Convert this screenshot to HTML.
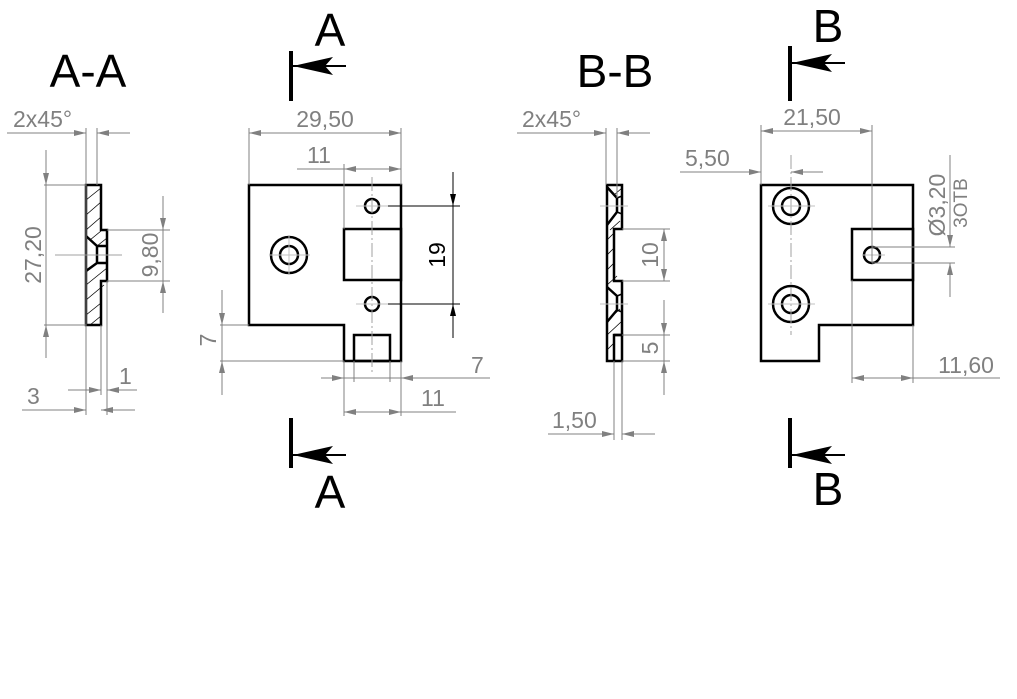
<!DOCTYPE html>
<html><head><meta charset="utf-8"><style>
html,body{margin:0;padding:0;background:#fff;}
svg{display:block;}
.d{stroke:#808080;stroke-width:1;fill:none;}
.o{stroke:#000;stroke-width:2.5;fill:none;}
.c{stroke:#a0a0a0;stroke-width:1;fill:none;stroke-dasharray:14,3,2,3;}
.h{stroke:#000;stroke-width:0.8;}
.t{font-family:"Liberation Sans",sans-serif;font-size:23px;fill:#808080;}
.T{font-family:"Liberation Sans",sans-serif;font-size:46px;fill:#000;}
</style></head><body>
<svg width="1017" height="699" viewBox="0 0 1017 699" xmlns="http://www.w3.org/2000/svg">
<defs>
<marker id="a" viewBox="0 0 12 6" refX="12" refY="3" markerWidth="14" markerHeight="6" markerUnits="userSpaceOnUse" orient="auto-start-reverse"><path d="M0,0 L12,3 L0,6 z" fill="#808080"/></marker>
<marker id="k" viewBox="0 0 12 6" refX="12" refY="3" markerWidth="13" markerHeight="6" markerUnits="userSpaceOnUse" orient="auto-start-reverse"><path d="M0,0 L12,3 L0,6 z" fill="#000"/></marker>
<marker id="b" viewBox="0 0 40 18" refX="40" refY="9" markerWidth="40" markerHeight="18" markerUnits="userSpaceOnUse" orient="auto"><path d="M0,0 L40,9 L0,18 L8,9 z" fill="#000"/></marker>
</defs>

<text class="T" x="88" y="87" text-anchor="middle">A-A</text>
<text class="T" x="615" y="87" text-anchor="middle">B-B</text>

<line x1="291" y1="51" x2="291" y2="101" stroke="#000" stroke-width="4"/>
<line x1="346" y1="66" x2="293" y2="66" stroke="#000" stroke-width="2" marker-end="url(#b)"/>
<text class="T" x="330" y="46" text-anchor="middle">A</text>
<line x1="291" y1="418" x2="291" y2="468" stroke="#000" stroke-width="4"/>
<line x1="346" y1="455" x2="293" y2="455" stroke="#000" stroke-width="2" marker-end="url(#b)"/>
<text class="T" x="330" y="508" text-anchor="middle">A</text>
<line x1="790" y1="46" x2="790" y2="101" stroke="#000" stroke-width="4"/>
<line x1="845" y1="63" x2="792" y2="63" stroke="#000" stroke-width="2" marker-end="url(#b)"/>
<text class="T" x="828" y="42" text-anchor="middle">B</text>
<line x1="790" y1="418" x2="790" y2="468" stroke="#000" stroke-width="4"/>
<line x1="845" y1="455" x2="792" y2="455" stroke="#000" stroke-width="2" marker-end="url(#b)"/>
<text class="T" x="828" y="505" text-anchor="middle">B</text>

<!-- A-A section -->
<g class="h">
<line x1="86" y1="200" x2="101" y2="188"/><line x1="86" y1="215" x2="101" y2="202"/>
<line x1="86" y1="230" x2="101" y2="217"/><line x1="90" y1="240" x2="101" y2="231"/>
<line x1="97" y1="246" x2="107" y2="238"/>
<line x1="86" y1="285" x2="107" y2="268"/><line x1="86" y1="300" x2="104" y2="285"/>
<line x1="86" y1="315" x2="101" y2="303"/><line x1="90" y1="325" x2="101" y2="316"/>
<line x1="86" y1="272" x2="97" y2="263"/>
</g>
<path class="o" d="M86,185 H101 V230 H107 V281 H101 V325 H86 Z"/>
<path class="o" d="M86,236 L97,246 H107 M97,246 V263 H107 M97,263 L86,271" stroke-width="2"/>
<line x1="55" y1="255" x2="122" y2="255" stroke="#a0a0a0"/>
<line class="d" x1="46" y1="150" x2="46" y2="358"/>
<line class="d" x1="46" y1="150" x2="46" y2="185" marker-end="url(#a)"/>
<line class="d" x1="46" y1="358" x2="46" y2="325" marker-end="url(#a)"/>
<line class="d" x1="44" y1="185" x2="86" y2="185"/><line class="d" x1="44" y1="325" x2="86" y2="325"/>
<text class="t" transform="translate(41,255) rotate(-90)" text-anchor="middle">27,20</text>
<line class="d" x1="163" y1="196" x2="163" y2="230" marker-end="url(#a)"/>
<line class="d" x1="163" y1="313" x2="163" y2="281" marker-end="url(#a)"/>
<line class="d" x1="163" y1="230" x2="163" y2="281"/>
<line class="d" x1="107" y1="230" x2="170" y2="230"/><line class="d" x1="107" y1="281" x2="170" y2="281"/>
<text class="t" transform="translate(158,255) rotate(-90)" text-anchor="middle">9,80</text>
<line class="d" x1="86" y1="128" x2="86" y2="415"/><line class="d" x1="97" y1="128" x2="97" y2="185"/>
<line class="d" x1="101" y1="325" x2="101" y2="395"/><line class="d" x1="107" y1="281" x2="107" y2="415"/>
<line class="d" x1="7" y1="133" x2="86" y2="133" marker-end="url(#a)"/>
<line class="d" x1="130" y1="133" x2="97" y2="133" marker-end="url(#a)"/>
<text class="t" x="13" y="127">2x45°</text>
<line class="d" x1="68" y1="390" x2="101" y2="390" marker-end="url(#a)"/>
<line class="d" x1="137" y1="390" x2="107" y2="390" marker-end="url(#a)"/>
<text class="t" x="119" y="384">1</text>
<line class="d" x1="22" y1="410" x2="86" y2="410" marker-end="url(#a)"/>
<line class="d" x1="135" y1="410" x2="101" y2="410" marker-end="url(#a)"/>
<text class="t" x="27" y="404">3</text>

<!-- View A -->
<path class="o" d="M249,185 H401 V361 H344 V325 H249 Z"/>
<rect class="o" x="344" y="229" width="57" height="51"/>
<rect class="o" x="354" y="335" width="36" height="26"/>
<circle class="o" cx="372" cy="206" r="7" stroke-width="2"/>
<circle class="o" cx="372" cy="304" r="7" stroke-width="2"/>
<circle class="o" cx="289" cy="255" r="18" stroke-width="2"/>
<circle class="o" cx="289" cy="255" r="9" stroke-width="2"/>
<line class="c" x1="372" y1="177" x2="372" y2="372"/>
<line x1="270" y1="255" x2="310" y2="255" stroke="#c0c0c0"/><line x1="289" y1="235" x2="289" y2="275" stroke="#c0c0c0"/>
<line x1="356" y1="206" x2="388" y2="206" stroke="#c0c0c0"/><line x1="356" y1="304" x2="388" y2="304" stroke="#c0c0c0"/>
<line class="d" x1="249" y1="128" x2="249" y2="185"/><line class="d" x1="401" y1="128" x2="401" y2="185"/>
<line class="d" x1="249" y1="133" x2="401" y2="133" marker-start="url(#a)" marker-end="url(#a)"/>
<text class="t" x="325" y="127" text-anchor="middle">29,50</text>
<line class="d" x1="344" y1="164" x2="344" y2="229"/>
<line class="d" x1="297" y1="169" x2="344" y2="169"/>
<line class="d" x1="344" y1="169" x2="401" y2="169" marker-start="url(#a)" marker-end="url(#a)"/>
<text class="t" x="319" y="163" text-anchor="middle">11</text>
<line x1="388" y1="206" x2="460" y2="206" stroke="#000"/><line x1="388" y1="304" x2="460" y2="304" stroke="#000"/>
<line x1="453" y1="172" x2="453" y2="206" stroke="#000" marker-end="url(#k)"/>
<line x1="453" y1="338" x2="453" y2="304" stroke="#000" marker-end="url(#k)"/>
<line x1="453" y1="206" x2="453" y2="304" stroke="#000"/>
<text transform="translate(445,255) rotate(-90)" text-anchor="middle" font-family="Liberation Sans,sans-serif" font-size="23" fill="#000">19</text>
<line class="d" x1="220" y1="325" x2="249" y2="325"/><line class="d" x1="220" y1="361" x2="344" y2="361"/>
<line class="d" x1="222" y1="290" x2="222" y2="325" marker-end="url(#a)"/>
<line class="d" x1="222" y1="395" x2="222" y2="361" marker-end="url(#a)"/>
<line class="d" x1="222" y1="325" x2="222" y2="361"/>
<text class="t" transform="translate(216,340) rotate(-90)" text-anchor="middle">7</text>
<line class="d" x1="354" y1="361" x2="354" y2="382"/><line class="d" x1="390" y1="361" x2="390" y2="382"/>
<line class="d" x1="321" y1="378" x2="344" y2="378" marker-end="url(#a)"/>
<line class="d" x1="490" y1="378" x2="401" y2="378" marker-end="url(#a)"/>
<line class="d" x1="344" y1="378" x2="401" y2="378"/>
<text class="t" x="471" y="373">7</text>
<line class="d" x1="344" y1="361" x2="344" y2="416"/><line class="d" x1="401" y1="361" x2="401" y2="416"/>
<line class="d" x1="344" y1="412" x2="401" y2="412" marker-start="url(#a)" marker-end="url(#a)"/>
<line class="d" x1="401" y1="412" x2="456" y2="412"/>
<text class="t" x="433" y="406" text-anchor="middle">11</text>

<!-- B-B section -->
<g class="h">
<line x1="607" y1="240" x2="614" y2="233"/><line x1="607" y1="255" x2="614" y2="248"/>
<line x1="607" y1="270" x2="614" y2="263"/><line x1="607" y1="285" x2="617" y2="276"/>
<line x1="610" y1="230" x2="620" y2="221"/><line x1="614" y1="195" x2="622" y2="188"/>
<line x1="607" y1="335" x2="621" y2="322"/><line x1="607" y1="350" x2="614" y2="343"/>
<line x1="610" y1="318" x2="620" y2="309"/>
</g>
<path class="o" d="M607,185 H622 V229 H614 V281 H622 V335 H614 V361 H607 Z" stroke-width="2.2"/>
<path class="o" d="M614,335 H622 V361 H614" stroke-width="2"/>
<path class="o" d="M607,187 L617,198 V212 L607,225 M607,287 L617,296 V310 L607,322" stroke-width="2"/>
<path d="M617,198 L622,196 M617,212 L622,214 M617,296 L622,294 M617,310 L622,312" stroke="#000" stroke-width="1.5"/>
<line x1="600" y1="206" x2="628" y2="206" stroke="#c0c0c0"/><line x1="600" y1="304" x2="628" y2="304" stroke="#c0c0c0"/>
<line class="d" x1="606" y1="128" x2="606" y2="185"/><line class="d" x1="617" y1="128" x2="617" y2="198"/>
<line class="d" x1="517" y1="133" x2="606" y2="133" marker-end="url(#a)"/>
<line class="d" x1="650" y1="133" x2="617" y2="133" marker-end="url(#a)"/>
<text class="t" x="522" y="127">2x45°</text>
<line class="d" x1="622" y1="229" x2="670" y2="229"/><line class="d" x1="622" y1="281" x2="670" y2="281"/>
<line class="d" x1="664" y1="229" x2="664" y2="281" marker-start="url(#a)" marker-end="url(#a)"/>
<text class="t" transform="translate(658,255) rotate(-90)" text-anchor="middle">10</text>
<line class="d" x1="622" y1="335" x2="670" y2="335"/><line class="d" x1="622" y1="361" x2="670" y2="361"/>
<line class="d" x1="664" y1="300" x2="664" y2="335" marker-end="url(#a)"/>
<line class="d" x1="664" y1="395" x2="664" y2="361" marker-end="url(#a)"/>
<line class="d" x1="664" y1="335" x2="664" y2="361"/>
<text class="t" transform="translate(658,348) rotate(-90)" text-anchor="middle">5</text>
<line class="d" x1="614" y1="361" x2="614" y2="440"/><line class="d" x1="622" y1="361" x2="622" y2="440"/>
<line class="d" x1="548" y1="434" x2="614" y2="434" marker-end="url(#a)"/>
<line class="d" x1="655" y1="434" x2="622" y2="434" marker-end="url(#a)"/>
<text class="t" x="552" y="428">1,50</text>

<!-- View B -->
<path class="o" d="M761,185 H913 V325 H819 V361 H761 Z"/>
<rect class="o" x="852" y="229" width="61" height="51"/>
<circle class="o" cx="872" cy="255" r="8" stroke-width="2"/>
<circle class="o" cx="791" cy="206" r="18" stroke-width="2"/>
<circle class="o" cx="791" cy="206" r="9" stroke-width="2"/>
<circle class="o" cx="791" cy="304" r="18" stroke-width="2"/>
<circle class="o" cx="791" cy="304" r="9" stroke-width="2"/>
<line class="c" x1="791" y1="155" x2="791" y2="335"/>
<line x1="768" y1="206" x2="815" y2="206" stroke="#c0c0c0"/><line x1="768" y1="304" x2="815" y2="304" stroke="#c0c0c0"/>
<line x1="862" y1="255" x2="885" y2="255" stroke="#c0c0c0"/>
<line class="d" x1="761" y1="125" x2="761" y2="185"/><line class="d" x1="872" y1="125" x2="872" y2="263"/>
<line class="d" x1="761" y1="131" x2="872" y2="131" marker-start="url(#a)" marker-end="url(#a)"/>
<text class="t" x="812" y="125" text-anchor="middle">21,50</text>
<line class="d" x1="680" y1="172" x2="761" y2="172" marker-end="url(#a)"/>
<line class="d" x1="823" y1="172" x2="791" y2="172" marker-end="url(#a)"/>
<text class="t" x="685" y="166">5,50</text>
<line class="d" x1="872" y1="247" x2="955" y2="247"/><line class="d" x1="872" y1="263" x2="955" y2="263"/>
<line class="d" x1="950" y1="155" x2="950" y2="247" marker-end="url(#a)"/>
<line class="d" x1="950" y1="297" x2="950" y2="263" marker-end="url(#a)"/>
<text class="t" transform="translate(945,205) rotate(-90)" text-anchor="middle">Ø3,20</text>
<text class="t" transform="translate(967,203) rotate(-90)" text-anchor="middle" style="font-size:19px">3ОТВ</text>
<line class="d" x1="852" y1="280" x2="852" y2="383"/><line class="d" x1="913" y1="325" x2="913" y2="383"/>
<line class="d" x1="852" y1="378" x2="913" y2="378" marker-start="url(#a)" marker-end="url(#a)"/>
<line class="d" x1="913" y1="378" x2="1000" y2="378"/>
<text class="t" x="966" y="373" text-anchor="middle">11,60</text>
</svg>
</body></html>
